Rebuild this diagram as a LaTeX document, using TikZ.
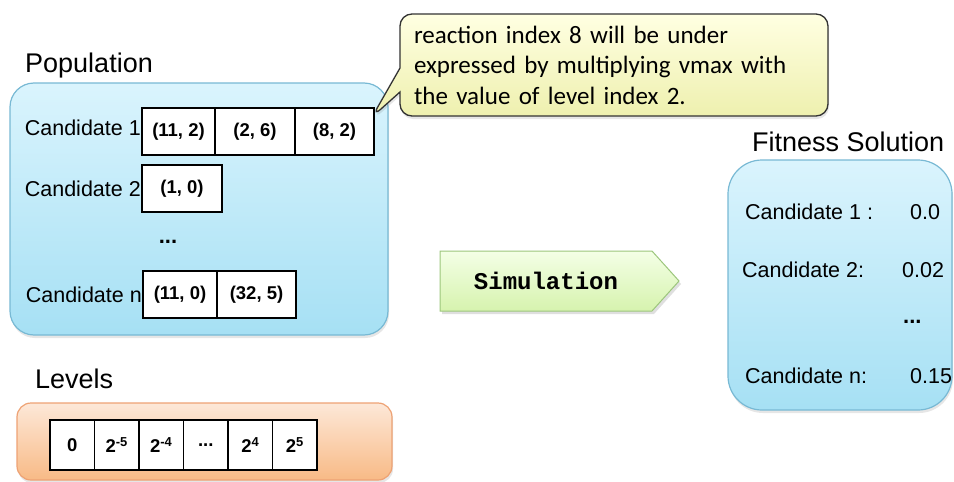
\documentclass[tikz,border=0pt]{standalone}
\usepackage{fontspec}
\setmainfont{Liberation Sans}
\newfontfamily\notefont{Carlito}
\newfontfamily\simfont{Liberation Mono}
\usepackage{tikz}
\usetikzlibrary{%
  shapes.symbols,
  shapes.callouts,
  positioning,
  shadows}
\definecolor{popTop}{HTML}{DAF4FD}
\definecolor{popBot}{HTML}{A6E0F4}
\definecolor{popEdge}{HTML}{78B9D4}
\definecolor{lvlTop}{HTML}{FDE8D8}
\definecolor{lvlBot}{HTML}{F8BA86}
\definecolor{lvlEdge}{HTML}{EEA274}
\definecolor{noteTop}{HTML}{FFFFE2}
\definecolor{noteBot}{HTML}{EEF0AE}
\definecolor{simTop}{HTML}{F4FFE6}
\definecolor{simBot}{HTML}{D6F3AE}
\definecolor{simEdge}{HTML}{9CC67C}
\tikzset{
  %% Container boxes
  popbox/.style={
    rectangle, rounded corners=24pt,
    draw=popEdge, line width=1.2pt,
    top color=popTop, bottom color=popBot,
    drop shadow={opacity=0.2, shadow xshift=1pt, shadow yshift=-3pt}},
  lvlbox/.style={
    rectangle, rounded corners=14pt,
    draw=lvlEdge, line width=1.2pt,
    top color=lvlTop, bottom color=lvlBot,
    drop shadow={opacity=0.2, shadow xshift=1pt, shadow yshift=-3pt}},
  %% Gene / level cells
  cellbox/.style={
    rectangle, draw=black, fill=white, line width=1.8pt,
    outer sep=0pt, minimum height=47pt,
    font=\fontsize{18.5}{22}\selectfont\bfseries},
  lvlcell/.style={
    cellbox, minimum width=44.5pt, minimum height=50pt},
  %% Texts
  titletext/.style={font=\fontsize{27}{32}\selectfont, inner sep=0pt},
  candtext/.style={font=\fontsize{21.5}{25}\selectfont, inner sep=0pt},
  dotstext/.style={font=\fontsize{22}{26}\selectfont\bfseries, inner sep=0pt},
  %% Note and simulation arrow
  notebox/.style={
    rectangle callout, rounded corners=12pt,
    draw=black!80, line width=1.3pt,
    top color=noteTop, bottom color=noteBot,
    text width=400pt, align=left, inner xsep=14pt,
    minimum width=428pt, minimum height=102pt,
    callout pointer width=24pt,
    font=\notefont\fontsize{25}{30.5}\selectfont,
    drop shadow={opacity=0.2, shadow xshift=1pt, shadow yshift=-3pt}},
  simarrow/.style={
    signal, signal to=east, signal pointer angle=96,
    draw=simEdge, line width=1pt,
    top color=simTop, bottom color=simBot,
    minimum width=239pt, minimum height=60pt,
    font=\simfont\bfseries\fontsize{24}{28}\selectfont,
    drop shadow={opacity=0.25, shadow xshift=2pt, shadow yshift=-3pt}},
}

\begin{document}
\begin{tikzpicture}[x=1pt, y=-1pt]
  \useasboundingbox (0,0) rectangle (954,482);

  %% Population
  \node[titletext, anchor=base west] (poptitle) at (25,72) {Population};
  \node[popbox, minimum width=378pt, minimum height=252pt] (pop) at (199,209) {};

  \node[cellbox, minimum width=73pt, anchor=west] (c11) at (142,131.5) {(11, 2)};
  \node[cellbox, minimum width=80pt, right=0pt of c11] (c12) {(2, 6)};
  \node[cellbox, minimum width=79pt, right=0pt of c12] (c13) {(8, 2)};
  \node[candtext, left=1pt of c11, yshift=4pt] (cand1) {Candidate 1};

  \node[cellbox, minimum width=80pt, anchor=west] (c21) at (142,188.5) {(1, 0)};
  \node[candtext, left=1pt of c21] (cand2) {Candidate 2};

  \node[dotstext] (popdots) at (168,242) {...};

  \node[cellbox, minimum width=74pt, anchor=west] (cn1) at (143,294.5) {(11, 0)};
  \node[cellbox, minimum width=79pt, right=0pt of cn1] (cn2) {(32, 5)};
  \node[candtext, left=1pt of cn1] (candn) {Candidate n};

  %% Levels
  \node[titletext, anchor=base west] (lvltitle) at (35,388) {Levels};
  \node[lvlbox, minimum width=375pt, minimum height=77pt] (lvl) at (204.5,441.5) {};
  \node[lvlcell, anchor=west] (l1) at (50,445) {0};
  \node[lvlcell, right=0pt of l1] (l2) {2\textsuperscript{-5}};
  \node[lvlcell, right=0pt of l2] (l3) {2\textsuperscript{-4}};
  \node[lvlcell, right=0pt of l3] (l4) {...};
  \node[lvlcell, right=0pt of l4] (l5) {2\textsuperscript{4}};
  \node[lvlcell, right=0pt of l5] (l6) {2\textsuperscript{5}};

  %% Note on the last gene
  \coordinate (tip) at (372,117);
  \node[notebox, callout absolute pointer={(tip)}] (note) at (614,65)
        {reaction index 8 will be under\\
         expressed by multiplying vmax with\\
         the value of level index 2.};

  %% Simulation
  \node[simarrow] (sim) at (546,281) {Simulation};

  %% Fitness Solution
  \node[titletext, anchor=base west] (fittitle) at (752,151) {Fitness Solution};
  \node[popbox, rounded corners=34pt, minimum width=224pt, minimum height=250pt] (fit) at (840,285) {};
  \node[candtext, anchor=west] (f1) at (745,212) {Candidate 1 :};
  \node[candtext, anchor=west] (f1v) at (910,212) {0.0};
  \node[candtext, anchor=west] (f2) at (742,270) {Candidate 2:};
  \node[candtext, anchor=west] (f2v) at (902,270) {0.02};
  \node[dotstext, anchor=west] (fdots) at (903,322) {...};
  \node[candtext, anchor=west] (fn) at (745,376) {Candidate n:};
  \node[candtext, anchor=west] (fnv) at (910,376) {0.15};
\end{tikzpicture}
\end{document}
